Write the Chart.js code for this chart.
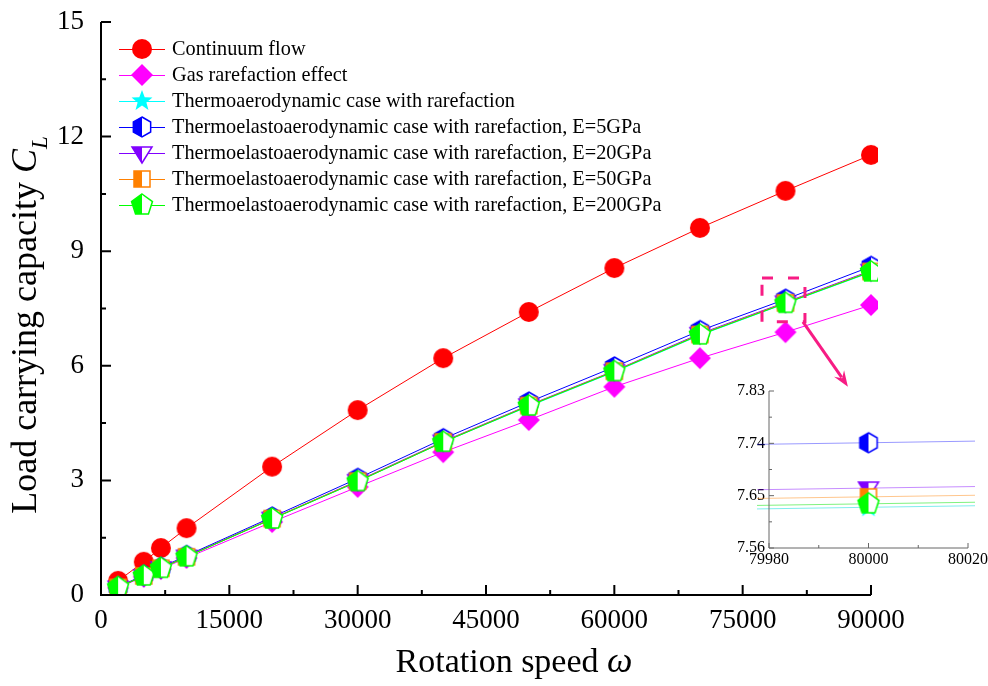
<!DOCTYPE html>
<html lang="en">
<head>
<meta charset="UTF-8">
<title>Load carrying capacity vs rotation speed</title>
<script src="https://cdn.jsdelivr.net/npm/chart.js"></script>
<style>
    body { margin: 0; background: #fff; }
    #wrap { position: relative; width: 988px; height: 686px; }
    #mainChart { position: absolute; left: 0; top: 0; }
    #insetChart { position: absolute; left: 720px; top: 375px; }
</style>
</head>
<body>
<div id="wrap">
    <canvas id="mainChart" width="988" height="686"></canvas>
    <canvas id="insetChart" width="268" height="211"></canvas>
</div>
<script>
// rotation speed values (x)
const speeds = [2000, 5000, 7000, 10000, 20000, 30000, 40000, 50000, 60000, 70000, 80000, 90000];

// load carrying capacity C_L for each case
const continuumFlow   = [0.37, 0.87, 1.23, 1.75, 3.36, 4.84, 6.20, 7.41, 8.56, 9.61, 10.58, 11.52];
const gasRarefaction  = [0.19, 0.48, 0.68, 0.97, 1.91, 2.83, 3.74, 4.58, 5.45, 6.20, 6.88, 7.59];
const thermoRarefied  = [0.20, 0.50, 0.70, 1.00, 1.99, 2.97, 4.00, 4.94, 5.84, 6.80, 7.630, 8.45];
const elastic5GPa     = [0.21, 0.52, 0.72, 1.03, 2.04, 3.05, 4.09, 5.05, 5.97, 6.92, 7.741, 8.60];
const elastic20GPa    = [0.20, 0.50, 0.71, 1.01, 2.00, 2.99, 4.02, 4.97, 5.87, 6.84, 7.663, 8.49];
const elastic50GPa    = [0.20, 0.50, 0.70, 1.00, 2.00, 2.98, 4.01, 4.96, 5.86, 6.82, 7.648, 8.47];
const elastic200GPa   = [0.20, 0.50, 0.70, 1.00, 1.99, 2.97, 4.00, 4.95, 5.85, 6.81, 7.636, 8.46];

const seriesNames = [
    'Continuum flow',
    'Gas rarefaction effect',
    'Thermoaerodynamic case with rarefaction',
    'Thermoelastoaerodynamic case with rarefaction, E=5GPa',
    'Thermoelastoaerodynamic case with rarefaction, E=20GPa',
    'Thermoelastoaerodynamic case with rarefaction, E=50GPa',
    'Thermoelastoaerodynamic case with rarefaction, E=200GPa'
];

// tick labels
const xTicksMain  = [0, 15000, 30000, 45000, 60000, 75000, 90000];
const yTicksMain  = [0, 3, 6, 9, 12, 15];
const xTicksInset = [79980, 80000, 80020];
const yTicksInset = [7.56, 7.65, 7.74, 7.83];

// zoomed region shown in the inset (data units): x0, x1, y0, y1 and arrow tip
const zoomRegion = [77260, 82280, 7.15, 8.30];
const arrowTip = [87300, 5.45];

const SERIF = "'Liberation Serif', 'DejaVu Serif', serif";

// marker images, some half filled like the origin plot
function makeMarker(kind, color, r, half) {
    const size = Math.ceil(r * 2 + 4);
    const c = document.createElement('canvas');
    c.width = size; c.height = size;
    const ctx = c.getContext('2d');
    const cx = size / 2, cy = size / 2;
    const poly = (n, rot, rad) => {
        ctx.beginPath();
        for (let k = 0; k < n; k++) {
            const a = rot + k * 2 * Math.PI / n;
            const px = cx + rad * Math.cos(a), py = cy + rad * Math.sin(a);
            k ? ctx.lineTo(px, py) : ctx.moveTo(px, py);
        }
        ctx.closePath();
    };
    const path = () => {
        if (kind === 'circle') { ctx.beginPath(); ctx.arc(cx, cy, r, 0, Math.PI * 2); }
        else if (kind === 'diamond') poly(4, -Math.PI / 2, r);
        else if (kind === 'hexagon') poly(6, -Math.PI / 2, r);
        else if (kind === 'pentagon') poly(5, -Math.PI / 2, r);
        else if (kind === 'square') { ctx.beginPath(); ctx.rect(cx - r * 0.8, cy - r * 0.8, r * 1.6, r * 1.6); }
        else if (kind === 'triangle') {
            ctx.beginPath();
            ctx.moveTo(cx - r, cy - r * 0.6); ctx.lineTo(cx + r, cy - r * 0.6); ctx.lineTo(cx, cy + r);
            ctx.closePath();
        } else if (kind === 'star') {
            ctx.beginPath();
            for (let k = 0; k < 10; k++) {
                const a = -Math.PI / 2 + k * Math.PI / 5;
                const rad = k % 2 ? r * 0.42 : r;
                const px = cx + rad * Math.cos(a), py = cy + rad * Math.sin(a);
                k ? ctx.lineTo(px, py) : ctx.moveTo(px, py);
            }
            ctx.closePath();
        }
    };
    if (half) {
        path(); ctx.fillStyle = '#fff'; ctx.fill();
        ctx.save(); ctx.beginPath(); ctx.rect(0, 0, cx, size); ctx.clip();
        path(); ctx.fillStyle = color; ctx.fill();
        ctx.restore();
        path(); ctx.strokeStyle = color; ctx.lineWidth = 1.5; ctx.stroke();
    } else {
        path(); ctx.fillStyle = color; ctx.fill();
    }
    return c;
}

const seriesValues = [continuumFlow, gasRarefaction, thermoRarefied, elastic5GPa, elastic20GPa, elastic50GPa, elastic200GPa];
const seriesColors = ['#FF0000', '#FF00FF', '#00FFFF', '#0000FF', '#8000FF', '#FF8000', '#00FF00'];
const insetLineColors = ['#FF0000', '#FF00FF', 'rgba(0,220,220,0.5)', 'rgba(0,0,255,0.4)', 'rgba(128,0,255,0.45)', 'rgba(255,128,0,0.45)', 'rgba(0,230,0,0.5)'];
const markers = [
    makeMarker('circle', '#FF0000', 10, false),
    makeMarker('diamond', '#FF00FF', 11, false),
    makeMarker('star', '#00FFFF', 11, false),
    makeMarker('hexagon', '#0000FF', 10, true),
    makeMarker('triangle', '#8000FF', 10, true),
    makeMarker('square', '#FF8000', 10, true),
    makeMarker('pentagon', '#00FF00', 11, true)
];

const toPoints = vals => speeds.map((s, i) => ({ x: s, y: vals[i] }));

const buildDatasets = (lineColors, keep) => seriesNames.map((name, i) => ({
    label: name,
    data: toPoints(seriesValues[i]),
    borderColor: lineColors[i],
    borderWidth: 1,
    pointStyle: markers[i],
    pointRadius: 10,
    order: seriesNames.length - i,
    clip: { left: 12, top: 12, right: 7, bottom: 0 },
    hidden: !keep.includes(i)
}));

// no extra label padding, the chart area is set by layout.padding
const noPad = s => { s.paddingTop = 0; s.paddingBottom = 0; s.paddingLeft = 0; s.paddingRight = 0; };

// axis lines with inward major and minor ticks
const axisFrame = {
    id: 'axisFrame',
    afterDatasetsDraw(chart, args, o) {
        const { ctx, chartArea: a, scales: { x, y } } = chart;
        const mids = arr => arr.slice(1).map((v, i) => (v + arr[i]) / 2);
        const xt = x.ticks.map(t => t.value), yt = y.ticks.map(t => t.value);
        ctx.save();
        ctx.strokeStyle = o.color;
        ctx.lineWidth = o.width;
        ctx.beginPath();
        ctx.moveTo(a.left, a.top); ctx.lineTo(a.left, a.bottom); ctx.lineTo(a.right, a.bottom);
        xt.forEach(v => { const p = x.getPixelForValue(v); ctx.moveTo(p, a.bottom); ctx.lineTo(p, a.bottom - o.major); });
        mids(xt).forEach(v => { const p = x.getPixelForValue(v); ctx.moveTo(p, a.bottom); ctx.lineTo(p, a.bottom - o.minor); });
        yt.forEach(v => { const p = y.getPixelForValue(v); ctx.moveTo(a.left, p); ctx.lineTo(a.left + o.major, p); });
        mids(yt).forEach(v => { const p = y.getPixelForValue(v); ctx.moveTo(a.left, p); ctx.lineTo(a.left + o.minor, p); });
        ctx.stroke();
        ctx.restore();
    }
};

// legend with a line through each marker
const seriesLegend = {
    id: 'seriesLegend',
    afterDraw(chart, args, o) {
        const ctx = chart.ctx;
        ctx.save();
        ctx.font = o.font;
        ctx.textBaseline = 'middle';
        chart.data.datasets.forEach((ds, i) => {
            const cy = o.top + i * o.rowHeight;
            ctx.strokeStyle = ds.borderColor;
            ctx.lineWidth = 1;
            ctx.beginPath();
            ctx.moveTo(o.left, cy + 0.5); ctx.lineTo(o.left + o.lineLength, cy + 0.5);
            ctx.stroke();
            const img = ds.pointStyle;
            ctx.drawImage(img, o.left + o.lineLength / 2 - img.width / 2, cy - img.height / 2);
            ctx.fillStyle = '#000';
            ctx.fillText(ds.label, o.left + o.lineLength + o.gap, cy + 1);
        });
        ctx.restore();
    }
};

// axis titles with italic symbols
const axisTitles = {
    id: 'axisTitles',
    afterDraw(chart) {
        const ctx = chart.ctx;
        ctx.save();
        ctx.fillStyle = '#000';
        ctx.textBaseline = 'alphabetic';
        // x title
        ctx.font = '34px ' + SERIF;
        const xa = 'Rotation speed ';
        const w1 = ctx.measureText(xa).width;
        ctx.font = 'italic 36px ' + SERIF;
        const w2 = ctx.measureText('\u03C9').width;
        let sx = 514 - (w1 + w2) / 2;
        ctx.font = '34px ' + SERIF;
        ctx.fillText(xa, sx, 672);
        ctx.font = 'italic 36px ' + SERIF;
        ctx.fillText('\u03C9', sx + w1, 672);
        // y title
        ctx.translate(36, 325);
        ctx.rotate(-Math.PI / 2);
        ctx.font = '36px ' + SERIF;
        const ya = 'Load carrying capacity ';
        const v1 = ctx.measureText(ya).width;
        ctx.font = 'italic 36px ' + SERIF;
        const v2 = ctx.measureText('C').width;
        ctx.font = 'italic 23px ' + SERIF;
        const v3 = ctx.measureText('L').width;
        const sy = -(v1 + v2 + v3) / 2;
        ctx.font = '36px ' + SERIF;
        ctx.fillText(ya, sy, 0);
        ctx.font = 'italic 36px ' + SERIF;
        ctx.fillText('C', sy + v1, 0);
        ctx.font = 'italic 23px ' + SERIF;
        ctx.fillText('L', sy + v1 + v2, 11);
        ctx.restore();
    }
};

// dashed box round the zoomed point and the arrow towards the inset
const zoomMark = {
    id: 'zoomMark',
    afterDatasetsDraw(chart, args, o) {
        const { ctx, scales: { x, y } } = chart;
        const x0 = x.getPixelForValue(zoomRegion[0]), x1 = x.getPixelForValue(zoomRegion[1]);
        const y0 = y.getPixelForValue(zoomRegion[3]), y1 = y.getPixelForValue(zoomRegion[2]);
        ctx.save();
        ctx.strokeStyle = o.color;
        ctx.fillStyle = o.color;
        ctx.lineWidth = 3;
        ctx.setLineDash([11, 15]);
        ctx.strokeRect(x0, y0, x1 - x0, y1 - y0);
        ctx.setLineDash([]);
        const tx = x.getPixelForValue(arrowTip[0]), ty = y.getPixelForValue(arrowTip[1]);
        const ang = Math.atan2(ty - y1, tx - x1);
        const head = 16;
        ctx.beginPath();
        ctx.moveTo(x1 - 2, y1);
        ctx.lineTo(tx - head * 0.7 * Math.cos(ang), ty - head * 0.7 * Math.sin(ang));
        ctx.stroke();
        ctx.beginPath();
        ctx.moveTo(tx, ty);
        ctx.lineTo(tx - head * Math.cos(ang) + 6 * Math.sin(ang), ty - head * Math.sin(ang) - 6 * Math.cos(ang));
        ctx.lineTo(tx - head * 0.65 * Math.cos(ang), ty - head * 0.65 * Math.sin(ang));
        ctx.lineTo(tx - head * Math.cos(ang) - 6 * Math.sin(ang), ty - head * Math.sin(ang) + 6 * Math.cos(ang));
        ctx.closePath();
        ctx.fill();
        ctx.restore();
    }
};

new Chart(document.getElementById('mainChart'), {
    type: 'line',
    data: { datasets: buildDatasets(seriesColors, [0, 1, 2, 3, 4, 5, 6]) },
    options: {
        responsive: false,
        animation: false,
        events: [],
        layout: { autoPadding: false, padding: { left: 0, top: 22, right: 117, bottom: 0 } },
        scales: {
            x: {
                type: 'linear', min: 0, max: 90000,
                afterBuildTicks: s => { s.ticks = xTicksMain.map(v => ({ value: v })); },
                afterFit: s => { s.height = 91; noPad(s); },
                grid: { display: false, drawTicks: false },
                border: { display: false },
                ticks: { font: { family: SERIF, size: 27 }, color: '#000', padding: 10, maxRotation: 0, callback: v => String(v) }
            },
            y: {
                min: 0, max: 15,
                afterBuildTicks: s => { s.ticks = yTicksMain.map(v => ({ value: v })); },
                afterFit: s => { s.width = 101; noPad(s); },
                grid: { display: false, drawTicks: false },
                border: { display: false },
                ticks: { font: { family: SERIF, size: 27 }, color: '#000', padding: 17, callback: v => String(v) }
            }
        },
        plugins: {
            legend: { display: false },
            tooltip: { enabled: false },
            axisFrame: { color: '#000', width: 2, major: 10, minor: 5 },
            seriesLegend: { left: 119, top: 49, rowHeight: 26, lineLength: 46, gap: 7, font: '20.3px ' + SERIF },
            zoomMark: { color: '#F71C84' }
        }
    },
    plugins: [axisFrame, seriesLegend, axisTitles, zoomMark]
});

new Chart(document.getElementById('insetChart'), {
    type: 'line',
    data: { datasets: buildDatasets(insetLineColors, [2, 3, 4, 5, 6]) },
    options: {
        responsive: false,
        animation: false,
        events: [],
        layout: { autoPadding: false, padding: { left: 0, top: 16, right: 20, bottom: 0 } },
        scales: {
            x: {
                type: 'linear', min: 79980, max: 80020,
                afterBuildTicks: s => { s.ticks = xTicksInset.map(v => ({ value: v })); },
                afterFit: s => { s.height = 38; noPad(s); },
                grid: { display: false, drawTicks: false },
                border: { display: false },
                ticks: { font: { family: SERIF, size: 16 }, color: '#000', padding: 2, maxRotation: 0, callback: v => String(v) }
            },
            y: {
                min: 7.56, max: 7.83,
                afterBuildTicks: s => { s.ticks = yTicksInset.map(v => ({ value: v })); },
                afterFit: s => { s.width = 49; noPad(s); },
                grid: { display: false, drawTicks: false },
                border: { display: false },
                ticks: { font: { family: SERIF, size: 16 }, color: '#000', padding: 4, callback: v => v.toFixed(2) }
            }
        },
        plugins: {
            legend: { display: false },
            tooltip: { enabled: false },
            axisFrame: { color: '#666', width: 1, major: 5, minor: 3 }
        }
    },
    plugins: [axisFrame]
});
</script>
</body>
</html>
